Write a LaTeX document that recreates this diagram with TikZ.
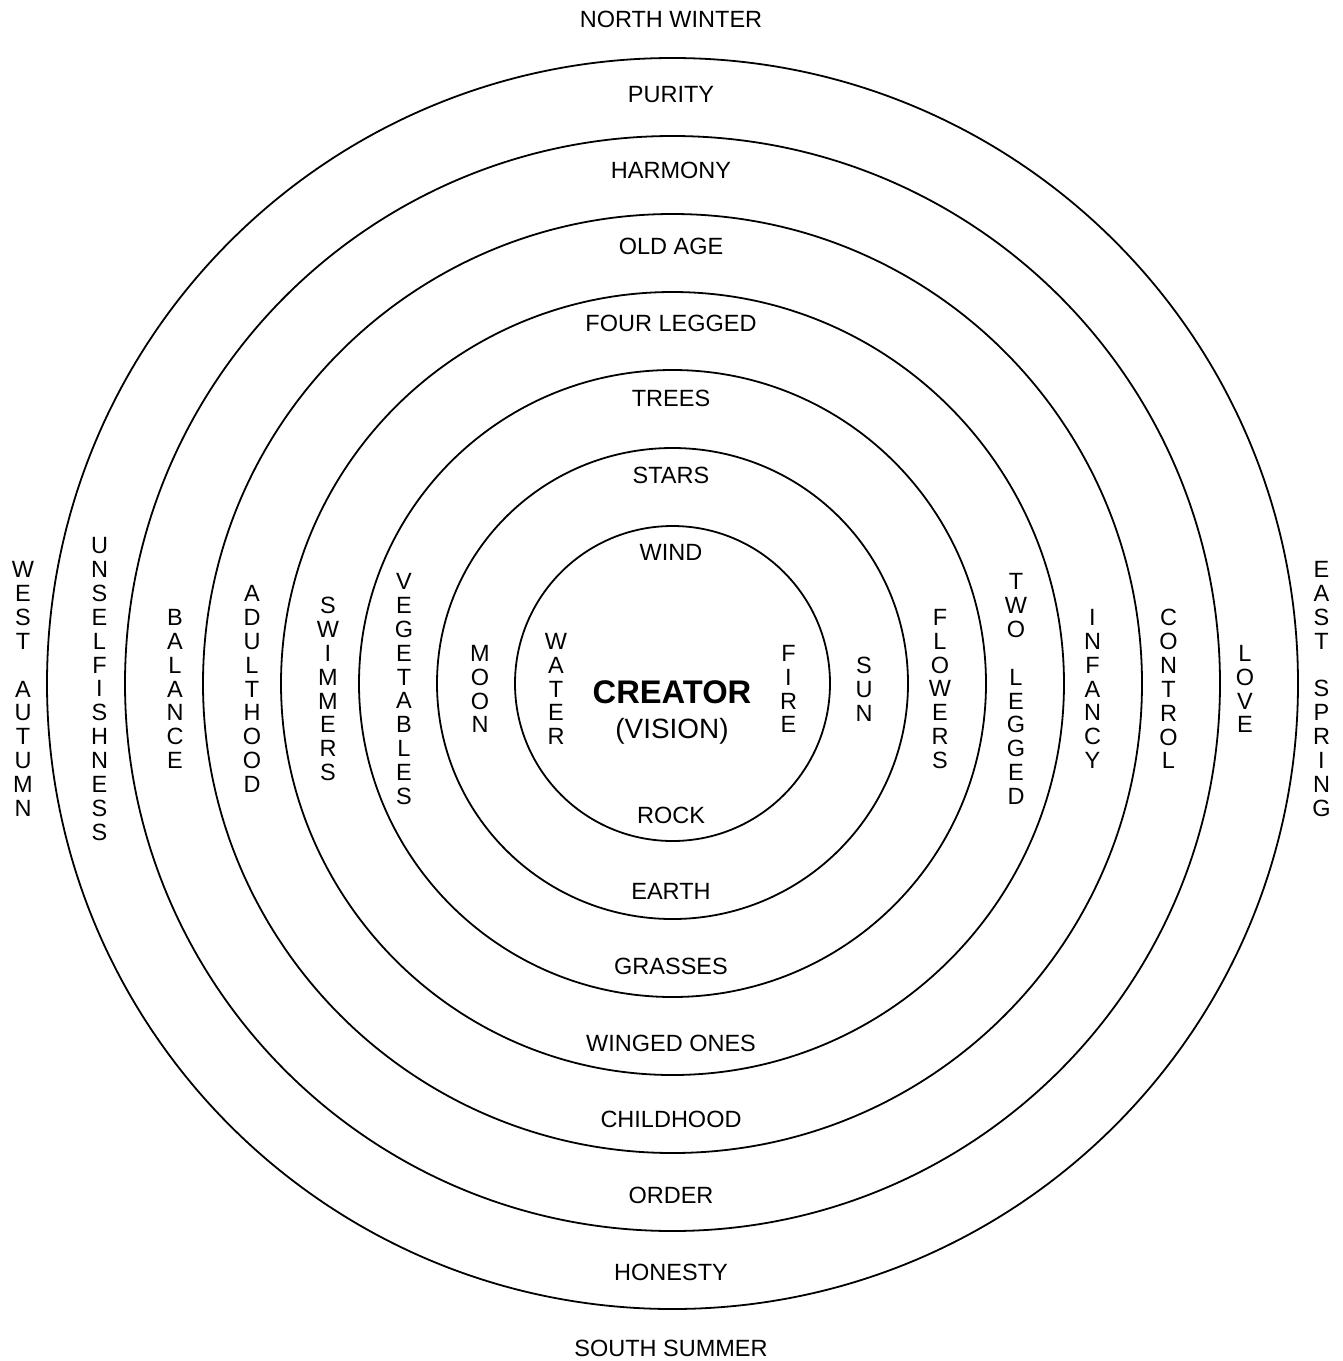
\documentclass[tikz,border=0pt]{standalone}
\usepackage{fontspec}
\setmainfont{Liberation Sans}
\begin{document}
\begin{tikzpicture}[x=1pt,y=-1pt,
  ring/.style={draw, line width=1.8pt},
  hlab/.style={font=\fontsize{23.5}{24}\selectfont, anchor=base, inner sep=0pt},
  vlab/.style={font=\fontsize{23.5}{23.9}\selectfont, align=center, inner sep=0pt, anchor=center}]
\useasboundingbox (0,0) rectangle (1343,1361);
\coordinate (c) at (672.5,683.5);
\foreach \r in {157.5,235.5,313.5,391.5,469.5,547.5,625.5}
  \draw[ring] (c) circle[radius=\r pt];
% horizontal labels
\node[hlab] (nw) at (671,27) {NORTH WINTER};
\node[hlab] (pur) at (671,102.5) {PURITY};
\node[hlab] (har) at (671,178.5) {HARMONY};
\node[hlab] (old) at (671,254.5) {OLD AGE};
\node[hlab] (four) at (671,331.5) {FOUR LEGGED};
\node[hlab] (trees) at (671,406.5) {TREES};
\node[hlab] (stars) at (671,483.5) {STARS};
\node[hlab] (wind) at (671,560) {WIND};
\node[hlab] (rock) at (671,823.5) {ROCK};
\node[hlab] (earth) at (671,899.5) {EARTH};
\node[hlab] (grass) at (671,974.5) {GRASSES};
\node[hlab] (wing) at (671,1051.5) {WINGED ONES};
\node[hlab] (child) at (671,1127.5) {CHILDHOOD};
\node[hlab] (order) at (671,1203.5) {ORDER};
\node[hlab] (hon) at (671,1280.5) {HONESTY};
\node[hlab] (ss) at (671,1356.5) {SOUTH SUMMER};
% center
\node[anchor=base, inner sep=0pt, font=\fontsize{32.7}{34}\selectfont\bfseries] (creator) at (672,703) {CREATOR};
\node[anchor=base, inner sep=0pt, font=\fontsize{27.9}{30}\selectfont] (vision) at (672,738) {(VISION)};
% vertical labels left
\node[vlab] (wa) at (23,689) {W\\E\\S\\T\\\mbox{}\\A\\U\\T\\U\\M\\N};
\node[vlab] (uns) at (99.5,689) {U\\N\\S\\E\\L\\F\\I\\S\\H\\N\\E\\S\\S};
\node[vlab] (bal) at (175,689) {B\\A\\L\\A\\N\\C\\E};
\node[vlab] (adu) at (252,689) {A\\D\\U\\L\\T\\H\\O\\O\\D};
\node[vlab] (swi) at (328,689) {S\\W\\I\\M\\M\\E\\R\\S};
\node[vlab] (veg) at (404,689) {V\\E\\G\\E\\T\\A\\B\\L\\E\\S};
\node[vlab] (moon) at (480,689) {M\\O\\O\\N};
\node[vlab] (water) at (556,689) {W\\A\\T\\E\\R};
% vertical labels right
\node[vlab] (fire) at (788.5,689) {F\\I\\R\\E};
\node[vlab] (sun) at (864,689) {S\\U\\N};
\node[vlab] (flow) at (940,689) {F\\L\\O\\W\\E\\R\\S};
\node[vlab] (two) at (1016,689) {T\\W\\O\\\mbox{}\\L\\E\\G\\G\\E\\D};
\node[vlab] (inf) at (1092.5,689) {I\\N\\F\\A\\N\\C\\Y};
\node[vlab] (con) at (1168.5,689) {C\\O\\N\\T\\R\\O\\L};
\node[vlab] (love) at (1245,689) {L\\O\\V\\E};
\node[vlab] (es) at (1321.5,689) {E\\A\\S\\T\\\mbox{}\\S\\P\\R\\I\\N\\G};
\end{tikzpicture}
\end{document}
